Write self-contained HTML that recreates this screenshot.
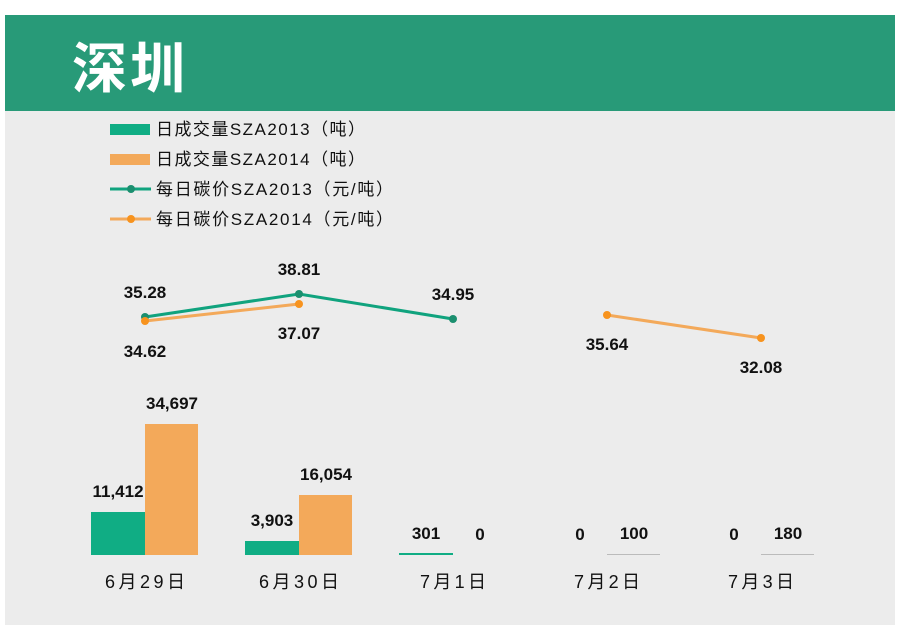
<!DOCTYPE html>
<html><head><meta charset="utf-8"><style>
body{margin:0;width:897px;height:627px;background:#fff;overflow:hidden}
</style></head><body>
<svg width="897" height="627" xmlns="http://www.w3.org/2000/svg" style="position:absolute;left:0;top:0">
<rect x="5" y="111" width="890" height="514" fill="#ececec"/>
<rect x="5" y="15" width="890" height="96" fill="#289a78"/>
<text x="72" y="88" font-family="Liberation Sans, Noto Sans CJK SC, sans-serif" font-size="55" font-weight="bold" fill="#fff" textLength="113">深圳</text>
<g font-family="Liberation Sans, Noto Sans CJK SC, sans-serif" font-size="17" fill="#111">
<rect x="110" y="124" width="40" height="11" fill="#10ad84"/>
<text x="156" y="135" textLength="209">日成交量SZA2013（吨）</text>
<rect x="110" y="154" width="40" height="11" fill="#f3a95a"/>
<text x="156" y="165" textLength="209">日成交量SZA2014（吨）</text>
<line x1="110" y1="189" x2="151" y2="189" stroke="#10a37e" stroke-width="3"/><circle cx="131" cy="189" r="4" fill="#1b8f6f"/>
<text x="156" y="195" textLength="237">每日碳价SZA2013（元/吨）</text>
<line x1="110" y1="219" x2="151" y2="219" stroke="#f3a95a" stroke-width="3"/><circle cx="131" cy="219" r="4" fill="#f7931e"/>
<text x="156" y="225" textLength="237">每日碳价SZA2014（元/吨）</text>
</g>
<rect x="91" y="512" width="54" height="43" fill="#10ad84"/>
<rect x="145" y="424" width="53" height="131" fill="#f3a95a"/>
<rect x="245" y="541" width="54" height="14" fill="#10ad84"/>
<rect x="299" y="495" width="53" height="60" fill="#f3a95a"/>
<rect x="399" y="553" width="54" height="2" fill="#10ad84"/>
<rect x="607" y="554" width="53" height="1" fill="#bbb"/>
<rect x="761" y="554" width="53" height="1" fill="#bbb"/>
<polyline points="145,317 299,294 453,319" fill="none" stroke="#10a37e" stroke-width="3"/>
<circle cx="145" cy="317" r="4" fill="#1b8f6f"/><circle cx="299" cy="294" r="4" fill="#1b8f6f"/><circle cx="453" cy="319" r="4" fill="#1b8f6f"/>
<polyline points="145,321 299,304" fill="none" stroke="#f3a95a" stroke-width="3"/>
<polyline points="607,315 761,338" fill="none" stroke="#f3a95a" stroke-width="3"/>
<circle cx="145" cy="321" r="4" fill="#f7931e"/><circle cx="299" cy="304" r="4" fill="#f7931e"/><circle cx="607" cy="315" r="4" fill="#f7931e"/><circle cx="761" cy="338" r="4" fill="#f7931e"/>
<g font-family="Liberation Sans, sans-serif" font-size="17" font-weight="bold" fill="#111" text-anchor="middle">
<text x="145" y="298">35.28</text><text x="299" y="275">38.81</text><text x="453" y="300">34.95</text>
<text x="145" y="357">34.62</text><text x="299" y="339">37.07</text><text x="607" y="350">35.64</text><text x="761" y="373">32.08</text>
<text x="118" y="497">11,412</text><text x="172" y="409">34,697</text>
<text x="272" y="526">3,903</text><text x="326" y="480">16,054</text>
<text x="426" y="539">301</text><text x="480" y="540">0</text>
<text x="580" y="540">0</text><text x="634" y="539">100</text>
<text x="734" y="540">0</text><text x="788" y="539">180</text>
</g>
<g font-family="Liberation Sans, Noto Sans CJK SC, sans-serif" font-size="18" fill="#111">
<text x="105" y="588" textLength="80">6月29日</text><text x="259" y="588" textLength="80">6月30日</text><text x="420" y="588" textLength="66">7月1日</text><text x="574" y="588" textLength="66">7月2日</text><text x="728" y="588" textLength="66">7月3日</text>
</g>
</svg>
</body></html>
